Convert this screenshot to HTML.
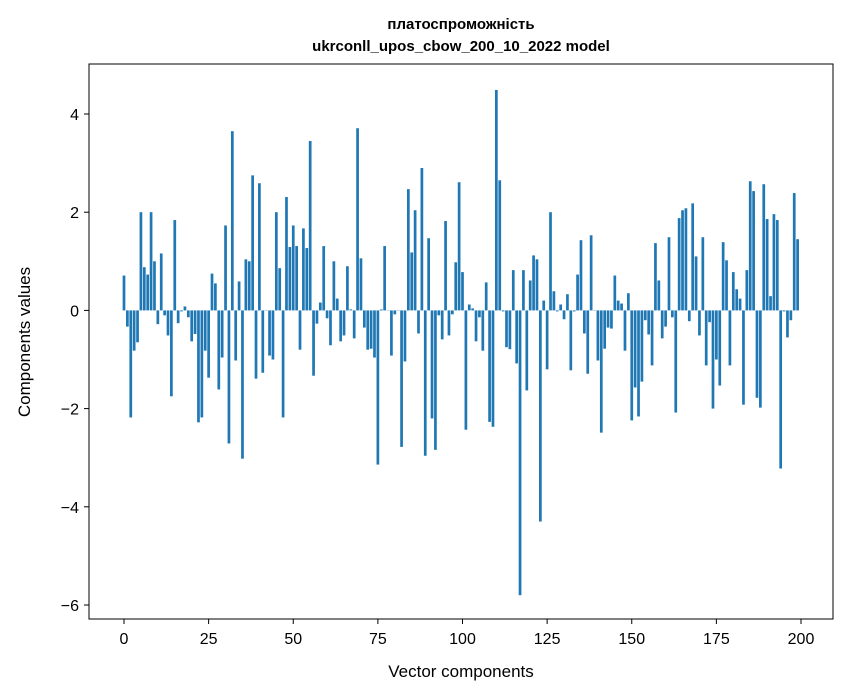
<!DOCTYPE html>
<html><head><meta charset="utf-8"><style>
body{margin:0;background:#fff;}
svg{display:block;font-family:"Liberation Sans","DejaVu Sans",sans-serif;}
</style></head><body>
<svg id="chart" width="847" height="696" xmlns="http://www.w3.org/2000/svg">
<rect width="847" height="696" fill="#fff"/>
<text x="461" y="29" text-anchor="middle" font-size="15" font-weight="bold">платоспроможність</text>
<text x="461" y="51" text-anchor="middle" font-size="15" font-weight="bold">ukrconll_upos_cbow_200_10_2022 model</text>
<g id="bars"></g>
<rect x="89" y="64" width="744" height="555" fill="none" stroke="#000" stroke-width="1"/>
<g id="xticks"></g>
<g id="yticks"></g>
<text x="461" y="677" text-anchor="middle" font-size="17">Vector components</text>
<text transform="translate(30,342) rotate(-90)" text-anchor="middle" font-size="17">Components values</text>
</svg>
<script>
const values = [0.71,-0.33,-2.18,-0.82,-0.65,2.0,0.88,0.73,2.0,1.0,
-0.28,1.16,-0.1,-0.51,-1.75,1.84,-0.26,-0.02,0.08,-0.14,
-0.63,-0.48,-2.28,-2.18,-0.82,-1.37,0.75,0.55,-1.61,-0.96,
1.73,-2.71,3.65,-1.02,0.59,-3.02,1.04,1.0,2.75,-1.39,
2.59,-1.27,0.0,-0.92,-1.0,2.0,0.86,-2.18,2.31,1.29,
1.73,1.31,-0.8,1.67,1.27,3.45,-1.33,-0.27,0.16,1.31,
-0.16,-0.71,1.0,0.24,-0.63,-0.51,0.9,0.02,-0.57,3.71,
1.06,-0.35,-0.8,-0.78,-0.96,-3.14,0.02,1.31,0.0,-0.92,
-0.08,0.0,-2.78,-1.04,2.47,1.18,2.04,-0.47,2.9,-2.96,
1.47,-2.2,-2.84,-0.1,-0.59,1.82,-0.51,-0.08,0.98,2.61,
0.78,-2.43,0.12,0.04,-0.63,-0.14,-0.82,0.57,-2.27,-2.37,
4.49,2.65,-0.02,-0.75,-0.79,0.82,-1.08,-5.8,0.82,-1.63,
0.61,1.12,1.04,-4.3,0.2,-1.2,2.0,0.39,-0.02,0.12,
-0.18,0.33,-1.22,-0.02,0.73,1.43,-0.47,-1.29,1.53,0.0,
-1.02,-2.49,-0.78,-0.35,-0.37,0.71,0.2,0.14,-0.82,0.35,
-2.24,-1.57,-2.16,-1.45,-0.2,-0.49,-1.12,1.37,0.61,-0.57,
-0.33,1.49,-0.14,-2.08,1.88,2.04,2.08,-0.22,2.18,1.1,
-0.51,1.49,-1.12,-0.24,-2.0,-1.0,-1.53,1.39,1.02,-1.12,
0.78,0.43,0.24,-1.92,0.82,2.63,2.43,-1.78,-1.98,2.57,
1.86,0.29,1.96,1.84,-3.22,-0.02,-0.55,-0.2,2.39,1.45];
const xTicks = [0,25,50,75,100,125,150,175,200];
const yTicks = [4,2,0,-2,-4,-6];
const yTickLabels = ["4","2","0","\u22122","\u22124","\u22126"];
const NS="http://www.w3.org/2000/svg";
function xs(v){return 124+v*3.385;}
function ys(v){return 310.4-v*49.1;}
const bars=document.getElementById('bars');
values.forEach((v,i)=>{
  const r=document.createElementNS(NS,'rect');
  
  
  const y0=ys(Math.max(v,0)), y1=ys(Math.min(v,0));
  r.setAttribute('x',xs(i-0.4));
  r.setAttribute('width',3.385*0.8);
  r.setAttribute('y',y0);
  r.setAttribute('height',Math.max(y1-y0,0.3));
  r.setAttribute('fill','#1f77b4');
  bars.appendChild(r);
});
const xg=document.getElementById('xticks');
xTicks.forEach(t=>{
  const l=document.createElementNS(NS,'line');
  
  
  l.setAttribute('x1',xs(t));l.setAttribute('x2',xs(t));
  l.setAttribute('y1',619);l.setAttribute('y2',624);
  l.setAttribute('stroke','#000');
  xg.appendChild(l);
  const tx=document.createElementNS(NS,'text');
  
  
  tx.setAttribute('x',xs(t));tx.setAttribute('y',644);
  tx.setAttribute('text-anchor','middle');tx.setAttribute('font-size','16');
  tx.textContent=String(t);
  xg.appendChild(tx);
});
const yg=document.getElementById('yticks');
yTicks.forEach((t,i)=>{
  const l=document.createElementNS(NS,'line');
  
  
  l.setAttribute('x1',84);l.setAttribute('x2',89);
  l.setAttribute('y1',ys(t));l.setAttribute('y2',ys(t));
  l.setAttribute('stroke','#000');
  yg.appendChild(l);
  const tx=document.createElementNS(NS,'text');
  
  
  tx.setAttribute('x',79);tx.setAttribute('y',ys(t)+6);
  tx.setAttribute('text-anchor','end');tx.setAttribute('font-size','16');
  tx.textContent=yTickLabels[i];
  yg.appendChild(tx);
});
</script>
</body></html>
